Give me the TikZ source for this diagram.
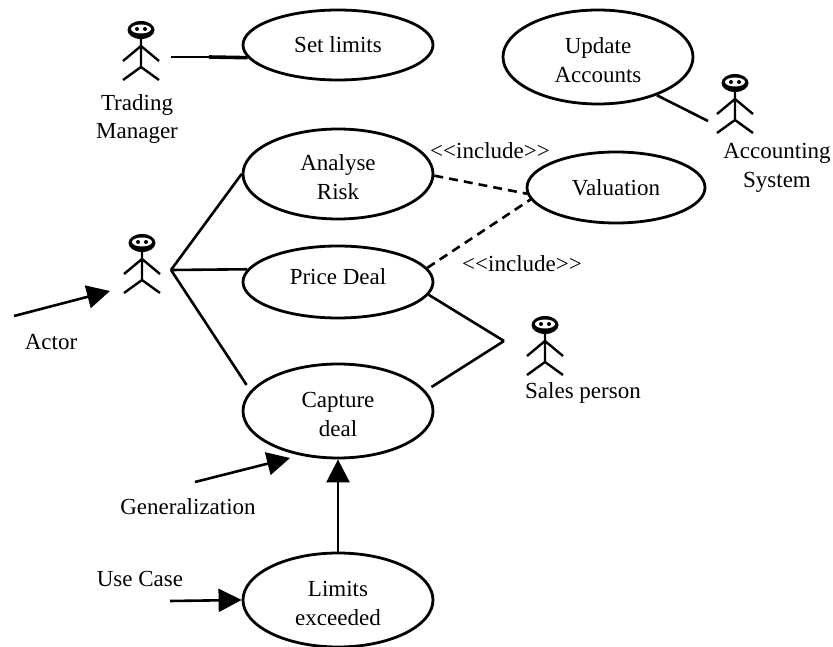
\documentclass[tikz,border=0pt]{standalone}
\usepackage{fontspec}
\setmainfont{Liberation Serif}
\usetikzlibrary{shapes.geometric,arrows.meta}
\tikzset{
  usecase/.style={ellipse,draw,line width=2.8pt,inner sep=0pt,align=center},
  lbl/.style={inner sep=0pt,align=center},
  conn/.style={line width=2.6pt},
  dashconn/.style={line width=2.6pt,dash pattern=on 9pt off 6pt},
  pointer/.style={line width=2.6pt,-{Triangle[length=23pt,width=23pt]}},
  stick/.style={line width=2.4pt},
  pics/actor/.style={code={
    \draw[stick] (0,8)--(0,37) (-18,31)--(0,16)--(18,31) (-18,50)--(0,37)--(18,50);
    \fill (0,0) ellipse [x radius=13.5,y radius=9];
    \fill[white] (0,-1) ellipse [x radius=10,y radius=4.5];
    \fill (-4,-1) circle [radius=2] (4,-1) circle [radius=2];
  }}
}
\newcommand{\lowered}{\rule{0pt}{22pt}}
\newcommand{\raisedtext}{\rule[-10pt]{0pt}{1pt}}
\begin{document}
\begin{tikzpicture}[x=1pt,y=-1pt,font=\fontsize{23}{28.5}\selectfont]
\useasboundingbox (0,0) rectangle (833,647);
\node[usecase,minimum width=190pt,minimum height=70pt] (setlimits) at (338,45) {Set limits};
\node[usecase,minimum width=190pt,minimum height=94pt] (update) at (598,57) {\lowered Update\\Accounts};
\node[usecase,minimum width=190pt,minimum height=90pt] (analyse) at (338,174) {\lowered Analyse\\Risk};
\node[usecase,minimum width=178pt,minimum height=71pt] (valuation) at (616,187.5) {Valuation};
\node[usecase,minimum width=190pt,minimum height=72pt] (price) at (338,282) {\raisedtext Price Deal};
\node[usecase,minimum width=190pt,minimum height=94pt] (capture) at (338,411) {\lowered Capture\\deal};
\node[usecase,minimum width=190pt,minimum height=94pt] (limits) at (338,600) {\lowered Limits\\exceeded};
\pic at (141,30) {actor};
\pic at (142,243) {actor};
\pic at (735,83) {actor};
\pic at (545,325) {actor};
\node[lbl] (tm) at (137,119) {Trading\\Manager};
\node[lbl] (as) at (777,168) {Accounting\\System};
\node[lbl] (actorlbl) at (51,342) {Actor};
\node[lbl] (sales) at (583,393) {Sales person};
\node[lbl] (gen) at (188,507) {Generalization};
\node[lbl] (uc) at (140,579) {Use Case};
\node[lbl] (inc1) at (490,151) {<{}<include>{}>};
\node[lbl] (inc2) at (522,264) {<{}<include>{}>};
\coordinate (tmR) at (171,57);
\coordinate (tmM) at (209,57);
\coordinate (acR) at (171,270);
\coordinate (spL) at (504,341);
\coordinate (asL) at (708,121);
\coordinate (aS) at (14,316);
\coordinate (aE) at (110,291);
\coordinate (gS) at (195,482);
\coordinate (gE) at (290,458);
\coordinate (uS) at (170,601);
\draw[conn] (tmR) -- (tmM);
\draw[line width=3.6pt] (tmM) -- (setlimits.188);
\draw[conn] (update.-33) -- (asL);
\draw[conn] (acR) -- (analyse.west);
\draw[conn] (acR) -- (price.172.6);
\draw[conn,shorten >=7pt] (acR) -- (capture.167);
\draw[conn] (price.-8) -- (spL);
\draw[conn,shorten <=7pt] (capture.13) -- (spL);
\draw[dashconn] (analyse.-1) -- (valuation.184);
\draw[dashconn] (price.9) -- (valuation.188);
\draw[pointer] (aS) -- (aE);
\draw[pointer] (gS) -- (gE);
\draw[pointer] (uS) -- (limits.west);
\draw[pointer] (limits.north) -- (capture.south);
\end{tikzpicture}
\end{document}
